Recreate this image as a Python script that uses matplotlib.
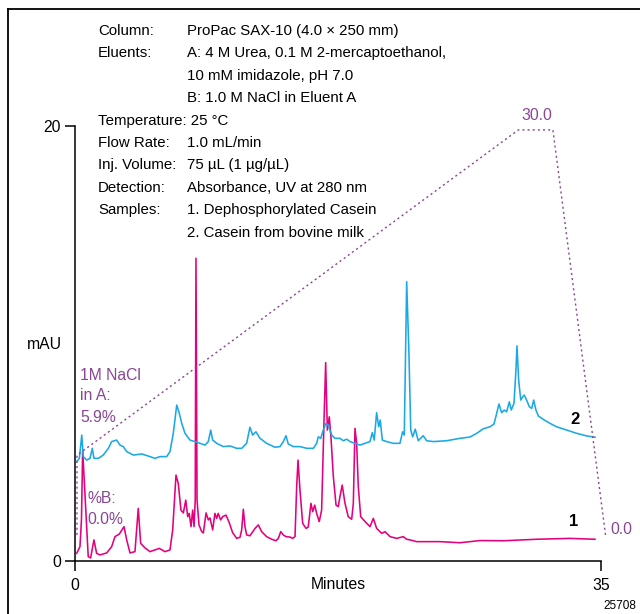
import matplotlib
matplotlib.use("Agg")
import matplotlib.pyplot as plt
from matplotlib.lines import Line2D

plt.rcParams['font.family'] = ['Liberation Sans', 'DejaVu Sans']

PINK = '#e5007e'
CYAN = '#1aa9e4'
PURPLE = '#8a4595'

# trace 1: dephosphorylated casein (minutes, mAU)
t1 = [0.11, 0.33, 0.43, 0.51, 0.88, 1.04, 1.26, 1.44, 1.66, 2.11, 2.44, 2.66, 2.95,
      3.26, 3.44, 3.66, 3.99, 4.21, 4.37, 4.66, 4.99, 5.32, 5.61, 5.99, 6.32, 6.50,
      6.72, 6.87, 7.05, 7.21, 7.37, 7.50, 7.60, 7.72, 7.83, 7.92, 8.00, 8.05, 8.12,
      8.25, 8.43, 8.54, 8.72, 8.87, 8.98, 9.16, 9.31, 9.43, 9.53, 9.69, 9.83, 10.05,
      10.27, 10.49, 10.76, 10.98, 11.09, 11.20, 11.31, 11.42, 11.64, 11.98, 12.20,
      12.42, 12.75, 13.09, 13.37, 13.53, 13.69, 13.86, 14.04, 14.31, 14.48, 14.64,
      14.75, 14.84, 14.97, 15.15, 15.37, 15.52, 15.70, 15.82, 15.95, 16.08, 16.25,
      16.41, 16.57, 16.68, 16.79, 16.92, 17.03, 17.19, 17.37, 17.52, 17.63, 17.78,
      17.96, 18.18, 18.41, 18.52, 18.63, 18.74, 18.85, 19.01, 19.30, 19.63, 19.85,
      20.07, 20.41, 20.63, 20.96, 21.40, 21.84, 22.07, 22.29, 22.73, 24.28, 25.62,
      26.95, 28.50, 30.72, 32.93, 34.60]
a1 = [0.35, 0.66, 1.89, 5.10, 0.20, 0.14, 0.97, 0.35, 0.28, 0.37, 0.66, 1.12, 1.24,
      1.58, 0.97, 0.37, 0.43, 2.42, 0.81, 0.60, 0.43, 0.51, 0.58, 0.43, 0.51, 1.43,
      3.95, 3.57, 2.34, 2.21, 2.80, 2.04, 2.19, 1.58, 2.34, 1.58, 2.80, 13.92, 2.80,
      1.66, 1.35, 1.29, 2.21, 1.89, 1.98, 1.43, 2.19, 1.96, 2.19, 1.89, 2.04, 2.11,
      1.75, 1.30, 1.04, 1.09, 1.43, 2.38, 1.58, 1.20, 1.16, 1.50, 1.66,
      1.35, 1.12, 1.00, 0.93, 1.04, 1.35, 1.20, 1.12, 1.10, 1.04, 1.12,
      3.42, 4.64, 3.26, 1.73, 1.50, 1.56, 2.65, 2.27, 2.57, 2.19, 1.81,
      2.34, 6.48, 9.12, 6.02, 6.63, 5.71, 3.88, 2.57, 2.50, 2.96, 3.49,
      2.67, 2.04, 1.92, 2.65, 6.10, 5.41, 3.42, 2.04, 1.81, 1.58, 1.96,
      1.50, 1.27, 1.35, 1.12, 1.04, 1.12, 1.00, 0.97, 0.89, 0.89, 0.84,
      0.94, 0.93, 1.00, 1.04, 1.00]

# trace 2: casein from bovine milk (minutes, mAU)
t2 = [0.11, 0.29, 0.45, 0.55, 0.78, 1.00, 1.15, 1.26, 1.55, 1.88, 2.22, 2.44, 2.77,
      2.99, 3.21, 3.44, 3.88, 4.44, 4.99, 5.32, 5.66, 6.10, 6.32, 6.54, 6.77, 6.94,
      7.10, 7.32, 7.65, 7.98, 8.32, 8.65, 8.87, 9.03, 9.16, 9.43, 9.87, 10.31, 10.76,
      11.09, 11.42, 11.64, 11.82, 12.04, 12.31, 12.75, 13.31, 13.64, 13.86, 14.04,
      14.19, 14.52, 14.97, 15.42, 15.86, 16.08, 16.19, 16.35, 16.52, 16.70, 16.85,
      17.08, 17.30, 17.63, 17.85, 18.08, 18.30, 18.63, 18.96, 19.30, 19.63, 19.78,
      19.91, 20.07, 20.21, 20.31, 20.45, 20.74, 21.18, 21.62, 21.80, 21.91, 22.07,
      22.22, 22.34, 22.47, 22.64, 22.84, 23.17, 23.40, 23.84, 24.73, 25.62, 26.28,
      26.73, 27.17, 27.61, 27.88, 28.06, 28.21, 28.39, 28.56, 28.72, 28.90, 29.03,
      29.21, 29.34, 29.41, 29.52, 29.66, 29.79, 29.89, 30.05, 30.23, 30.39, 30.52,
      30.67, 30.83, 31.16, 31.60, 32.05, 32.72, 33.38, 34.05, 34.60]
a2 = [4.57, 4.72, 5.79, 4.80, 4.64, 4.72, 5.18, 4.72, 4.72, 4.87, 5.18, 5.49, 5.56,
      5.33, 5.26, 5.03, 4.87, 4.92, 4.80, 4.72, 4.80, 4.80, 5.03, 5.87, 7.17, 6.79,
      6.33, 5.87, 5.56, 5.49, 5.41, 5.33, 5.49, 6.02, 5.56, 5.41, 5.26, 5.29, 5.18,
      5.18, 5.41, 6.15, 5.79, 5.94, 5.64, 5.41, 5.23, 5.26, 5.49, 5.76,
      5.38, 5.26, 5.26, 5.18, 5.18, 5.41, 5.71, 5.64, 6.02, 6.33, 6.25,
      5.79, 5.64, 5.64, 5.53, 5.60, 5.49, 5.41, 5.33, 5.41, 5.49, 5.90,
      5.56, 6.82, 6.17, 6.48, 5.56, 5.49, 5.41, 5.41, 5.94, 5.79, 12.84,
      9.55, 6.02, 5.71, 6.06, 5.53, 5.76, 5.53, 5.49, 5.53, 5.64, 5.70,
      5.87, 6.08, 6.17, 6.30, 6.79, 7.22, 6.82, 6.94, 6.86, 7.32, 6.94,
      7.25, 8.78, 9.89, 8.32, 7.40, 7.55, 7.63, 7.40, 7.09, 7.02, 7.40,
      6.94, 6.67, 6.51, 6.33, 6.17, 6.02, 5.87, 5.75, 5.69]

# gradient, %B
grad_t = [0.13, 0.13, 29.5, 31.8, 35.3]
grad_b = [0.0, 5.9, 30.0, 30.0, 0.0]

info_labels = ['Column:', 'Eluents:', '', '', 'Temperature: 25 \u00b0C', 'Flow Rate:',
               'Inj. Volume:', 'Detection:', 'Samples:', '']
info_values = ['ProPac SAX-10 (4.0 \u00d7 250 mm)',
               'A: 4 M Urea, 0.1 M 2-mercaptoethanol,',
               '10 mM imidazole, pH 7.0',
               'B: 1.0 M NaCl in Eluent A',
               '', '1.0 mL/min', '75 \u00b5L (1 \u00b5g/\u00b5L)',
               'Absorbance, UV at 280 nm',
               '1. Dephosphorylated Casein', '2. Casein from bovine milk']

W, H = 640, 614
FS = 10.8
fig = plt.figure(figsize=(W / 100, H / 100), dpi=100)


def fx(x):
    return x / W


def fy(y):
    return 1 - y / H


ax = fig.add_axes([fx(75), fy(561), 526 / W, 435 / H])
ax.plot(t1, a1, color=PINK, lw=1.15, zorder=3)
ax.plot(t2, a2, color=CYAN, lw=1.15, zorder=3)
ax.set_xlim(0, 35)
ax.set_ylim(0, 20)
ax.set_xticks([0, 35])
ax.set_yticks([0, 20])
for s in ['top', 'right']:
    ax.spines[s].set_visible(False)
for s in ['left', 'bottom']:
    ax.spines[s].set_linewidth(1.1)
ax.tick_params(direction='out', length=7, width=1.1, labelsize=FS + 0.5)
ax.tick_params(axis='x', pad=5)
ax.tick_params(axis='y', pad=3)
ax.set_xlabel('Minutes', fontsize=FS + 0.5)
ax.xaxis.set_label_coords(0.5, -0.036)
ax.xaxis.label.set_va('top')
ax.set_ylabel('mAU', fontsize=FS + 0.5, rotation=0, ha='center', va='center')
ax.yaxis.set_label_coords(-0.059, 0.497)

# gradient on its own scale
ax2 = ax.twinx()
ax2.set_ylim(-1.93, 30.29)
ax2.axis('off')
ax2.plot(grad_t, grad_b, color=PURPLE, lw=1.0, ls=(0, (1.5, 2.2)), clip_on=False)

# figure frame (top and left)
fig.add_artist(Line2D([fx(8), 1], [fy(9), fy(9)], color='black', lw=1.3))
fig.add_artist(Line2D([fx(8), fx(8)], [fy(9), 0], color='black', lw=1.3))

for i, (lab, val) in enumerate(zip(info_labels, info_values)):
    y = fy(31 + 22.4 * i)
    fig.text(fx(98), y, lab, fontsize=FS, va='center')
    fig.text(fx(187), y, val, fontsize=FS, va='center')

fig.text(fx(80), fy(396), '1M NaCl\nin A:\n5.9%', color=PURPLE, fontsize=FS + 0.5,
         va='center', linespacing=1.5)
fig.text(fx(87), fy(509), '%B:\n0.0%', color=PURPLE, fontsize=FS + 0.5,
         va='center', linespacing=1.5)
fig.text(fx(537), fy(115), '30.0', color=PURPLE, fontsize=FS + 0.5, ha='center', va='center')
fig.text(fx(610), fy(530), '0.0', color=PURPLE, fontsize=FS + 0.5, va='center')
fig.text(fx(575), fy(420), '2', fontsize=12, fontweight='bold', ha='center', va='center')
fig.text(fx(574), fy(522), '1', fontsize=12, fontweight='bold', ha='center', va='center')
fig.text(fx(620), fy(606), '25708', fontsize=8.5, ha='center', va='center')

fig.savefig('out.png', dpi=100)
